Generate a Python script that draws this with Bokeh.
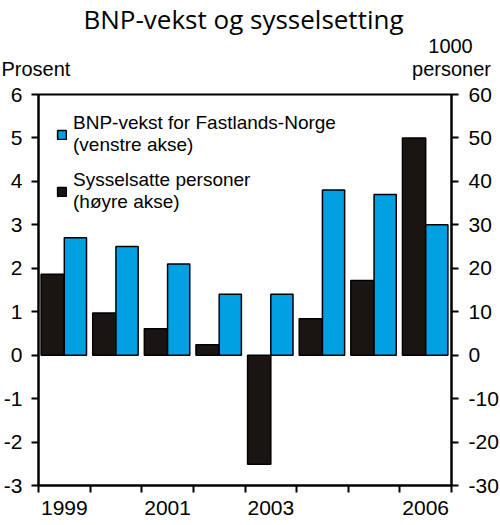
from bokeh.plotting import figure
from bokeh.models import (ColumnDataSource, Range1d, LinearAxis, FixedTicker, Legend,
                          LegendItem, Label)
from bokeh.layouts import column
from bokeh.embed import file_html
from bokeh.resources import INLINE

years = ["1999", "2000", "2001", "2002", "2003", "2004", "2005", "2006"]
tick_labels = ["1999", "", "2001", "", "2003", "", "", "2006"]
bnp_vekst = [2.7, 2.5, 2.1, 1.4, 1.4, 3.8, 3.7, 3.0]          # prosent, venstre akse
sysselsatte = [18.6, 9.7, 6.1, 2.4, -25.1, 8.4, 17.2, 50.0]   # 1000 personer, høyre akse
left_ticks = list(range(-3, 7))
right_ticks = list(range(-30, 61, 10))

BLUE = "#00A0E2"
BLACK = "#1A1412"
FONT = "Liberation Sans"
W = 498
HEAD_H = 80

# ---------- header with title and axis units ----------
head = figure(width=W, height=HEAD_H, output_backend="svg", toolbar_location=None,
              x_range=Range1d(0, W), y_range=Range1d(HEAD_H, 0),
              x_axis_location=None, y_axis_location=None, min_border=0)
head.frame_align = False
head.grid.visible = False
head.outline_line_color = None
head.background_fill_color = "white"
head.border_fill_color = "white"
head.add_layout(Label(x=243, y=18, text="BNP-vekst og sysselsetting", text_font="Open Sans",
                      text_font_size="26px", text_color="black",
                      text_align="center", text_baseline="middle"))
head.add_layout(Label(x=1, y=68, text="Prosent", text_font=FONT, text_font_size="20px",
                      text_color="black", text_align="left", text_baseline="middle"))
head.add_layout(Label(x=450, y=45, text="1000", text_font=FONT, text_font_size="20px",
                      text_color="black", text_align="center", text_baseline="middle"))
head.add_layout(Label(x=451, y=68, text="personer", text_font=FONT, text_font_size="20px",
                      text_color="black", text_align="center", text_baseline="middle"))

# ---------- main chart ----------
idx = list(range(len(years)))
src = ColumnDataSource(dict(
    xb=[i + 0.275 for i in idx], xl=[i + 0.715 for i in idx],
    bnp=bnp_vekst, syss=sysselsatte, year=years))

p = figure(frame_width=413, frame_height=391, output_backend="svg", toolbar_location=None,
           x_range=Range1d(0, len(years)), y_range=Range1d(-3, 6),
           min_border_left=37, min_border_right=47, min_border_top=14, min_border_bottom=0)
p.frame_align = False
p.extra_y_ranges = {"right": Range1d(-30, 60)}

black = p.vbar(x="xb", width=0.45, top="syss", bottom=0, source=src, y_range_name="right",
               fill_color=BLACK, line_color="black", line_width=1.5)
blue = p.vbar(x="xl", width=0.43, top="bnp", bottom=0, source=src,
              fill_color=BLUE, line_color="black", line_width=1.5)

p.grid.visible = False
p.outline_line_color = "black"
p.outline_line_width = 2
p.background_fill_color = "white"
p.border_fill_color = "white"

# bottom axis: ticks at category boundaries, labels at centres
xa = p.xaxis[0]
xa.ticker = FixedTicker(ticks=[i + 0.5 for i in idx], minor_ticks=list(range(len(years) + 1)))
xa.major_label_overrides = {i + 0.5: t for i, t in zip(idx, tick_labels)}
xa.major_tick_line_color = None
xa.major_tick_out = 0
xa.major_tick_in = 0
xa.minor_tick_out = 7
xa.minor_tick_in = 0
xa.minor_tick_line_width = 2
xa.axis_line_width = 2
xa.major_label_standoff = 8
xa.major_label_text_font = FONT
xa.major_label_text_font_size = "21px"
xa.major_label_text_color = "black"

# left axis
ya = p.yaxis[0]
ya.ticker = FixedTicker(ticks=left_ticks)
ya.major_label_overrides = {t: str(t) for t in left_ticks}
ya.axis_line_width = 2
ya.major_tick_out = 7
ya.major_tick_in = 0
ya.major_tick_line_width = 2
ya.minor_tick_line_color = None
ya.major_label_standoff = 9
ya.major_label_text_font = FONT
ya.major_label_text_font_size = "21px"
ya.major_label_text_color = "black"

# right axis
ra = LinearAxis(y_range_name="right", ticker=FixedTicker(ticks=right_ticks))
ra.major_label_overrides = {t: str(t) for t in right_ticks}
ra.axis_line_width = 2
ra.major_tick_out = 7
ra.major_tick_in = 0
ra.major_tick_line_width = 2
ra.minor_tick_line_color = None
ra.major_label_standoff = 10
ra.major_label_text_font = FONT
ra.major_label_text_font_size = "21px"
ra.major_label_text_color = "black"
p.add_layout(ra, "right")

legend = Legend(items=[
    LegendItem(label="BNP-vekst for Fastlands-Norge\n(venstre akse)", renderers=[blue]),
    LegendItem(label="Sysselsatte personer\n(høyre akse)", renderers=[black]),
], location="top_left")
legend.margin = 18
legend.padding = 1
legend.spacing = 13
legend.glyph_width = 11
legend.glyph_height = 11
legend.label_standoff = 6
legend.label_text_font = FONT
legend.label_text_font_size = "19px"
legend.label_text_color = "black"
legend.label_text_line_height = 1.05
legend.border_line_color = None
legend.background_fill_alpha = 0
p.add_layout(legend)

open("out.html", "w").write(file_html(column(head, p), INLINE))
